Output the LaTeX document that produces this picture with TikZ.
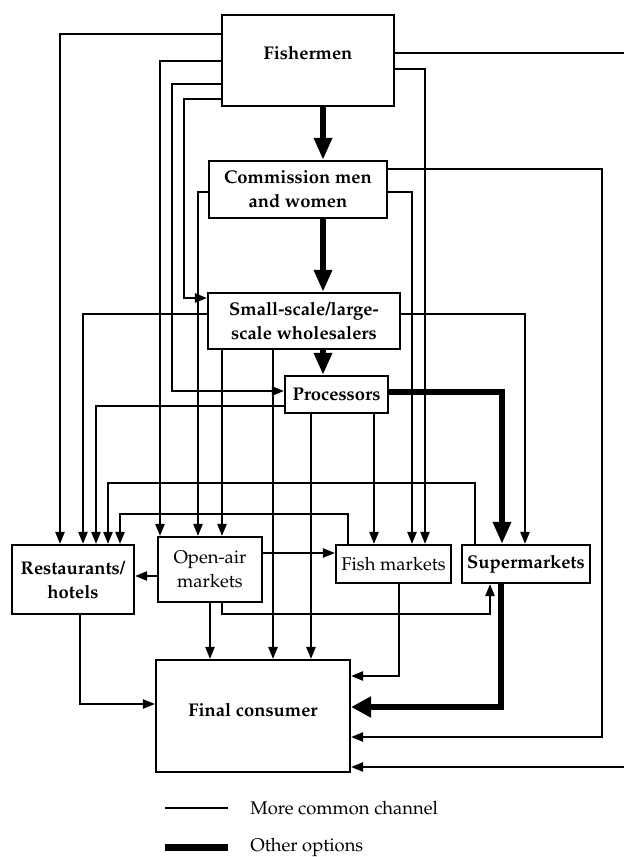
\documentclass[tikz,border=0pt]{standalone}
\usepackage[T1]{fontenc}
\usepackage{mathpazo}
\usetikzlibrary{arrows.meta}
\tikzset{
  >={Triangle[length=6pt,width=4.6pt]},
  box/.style = {draw, line width=1.1pt, align=center, inner sep=1pt,
    font=\fontsize{9.2}{12}\selectfont},
  bbox/.style = {box, font=\fontsize{9.2}{12}\selectfont\bfseries},
  chan/.style = {->, line width=0.95pt},
  major/.style = {-{Triangle[length=11pt,width=8.6pt]}, line width=3pt},
  legend/.style = {anchor=west, inner sep=0pt, font=\fontsize{9.2}{12}\selectfont}
}

\begin{document}
\begin{tikzpicture}[x=0.5pt,y=-0.5pt]
  \useasboundingbox (0,0) rectangle (624,857);
  \node[bbox, minimum width=86pt, minimum height=45.5pt] (fish) at (308,60.5)
    {\raisebox{4pt}[\height][\depth]{Fishermen}};
  \node[bbox, minimum width=89pt, minimum height=28.5pt] (comm) at (298,189.5)
    {Commission men\\and women};
  \node[bbox, minimum width=96pt, minimum height=28pt] (whole) at (304,321)
    {Small-scale/large-\\scale wholesalers};
  \node[bbox, minimum width=51.5pt, minimum height=18.5pt] (proc) at (336.5,394.5) {Processors};
  \node[bbox, minimum width=61pt, minimum height=34.5pt] (rest) at (73,579.5) {Restaurants/\\hotels};
  \node[box, minimum width=52pt, minimum height=32.5pt] (open) at (210,569.5) {Open-air\\markets};
  \node[box, minimum width=57.5pt, minimum height=19pt] (fishm) at (393.5,564) {Fish markets};
  \node[bbox, minimum width=64pt, minimum height=19pt] (super) at (526,564) {Supermarkets};
  \node[bbox, minimum width=97pt, minimum height=56pt] (cons) at (253,716)
    {\raisebox{3pt}[\height][\depth]{Final consumer}};

  % fishermen
  \draw[chan] (fish.west |- 0,34) -| (rest.north -| 60,0);
  \draw[chan] (fish.west |- 0,61) -| (open.north -| 160,0);
  \draw[chan] (fish.west |- 0,84) -| (172,391) -- (proc.west |- 0,391);
  \draw[chan] (fish.west |- 0,99) -| (184,298) -- (whole.west |- 0,298);
  \draw[chan] (fish.east |- 0,53) -- (640,53) |- (cons.east |- 0,767);
  \draw[chan] (fish.east |- 0,69) -| (fishm.north -| 425,0);
  \draw[major] (fish.south -| 323,0) -- (comm.north -| 323,0);

  % commission men and women
  \draw[chan] (comm.east |- 0,169) -- (602,169) |- (cons.east |- 0,737);
  \draw[chan] (comm.east |- 0,192) -| (fishm.north -| 412,0);
  \draw[chan] (comm.west |- 0,192) -| (open.north -| 198,0);
  \draw[major] (comm.south -| 323,0) -- (whole.north -| 323,0);

  % wholesalers
  \draw[chan] (whole.west |- 0,314) -| (rest.north -| 83,0);
  \draw[chan] (whole.east |- 0,314) -| (super.north -| 525,0);
  \draw[chan] (whole.south -| 222,0) -- (open.north -| 222,0);
  \draw[chan] (whole.south -| 273,0) -- (cons.north -| 273,0);
  \draw[major] (whole.south -| 323,0) -- (proc.north -| 323,0);

  % processors
  \draw[major] (proc.east |- 0,392) -| (super.north -| 502,0);
  \draw[chan] (proc.west |- 0,406) -| (rest.north -| 96,0);
  \draw[chan] (proc.south -| 374,0) -- (fishm.north -| 374,0);
  \draw[chan] (proc.south -| 311,0) -- (cons.north -| 311,0);

  % markets
  \draw[chan] (fishm.north -| 348,0) |- (120,514) -- (rest.north -| 120,0);
  \draw[chan] (fishm.south -| 399,0) |- (cons.east |- 0,676);
  \draw[chan] (super.north -| 475,0) |- (108,483) -- (rest.north -| 108,0);
  \draw[major, -{Triangle[length=10pt,width=10pt]}] (super.south -| 501,0) |- (cons.east |- 0,707);
  \draw[chan] (open.east |- 0,553) -- (fishm.west |- 0,553);
  \draw[chan] (open.west |- 0,576) -- (rest.east |- 0,576);
  \draw[chan] (open.south -| 210,0) -- (cons.north -| 210,0);
  \draw[chan] (open.south -| 222,0) |- (490,614) -- (super.south -| 490,0);
  \draw[chan] (rest.south -| 80,0) |- (cons.west |- 0,704);

  % legend
  \node[legend] (common) at (250,808) {More common channel};
  \node[legend] (other) at (250,847) {Other options};
  \draw[line width=0.95pt] ([xshift=-11pt]common.west) -- ++(-31.5pt,0);
  \draw[line width=3.5pt] ([xshift=-11pt]other.west) -- ++(-31.5pt,0);
\end{tikzpicture}
\end{document}
